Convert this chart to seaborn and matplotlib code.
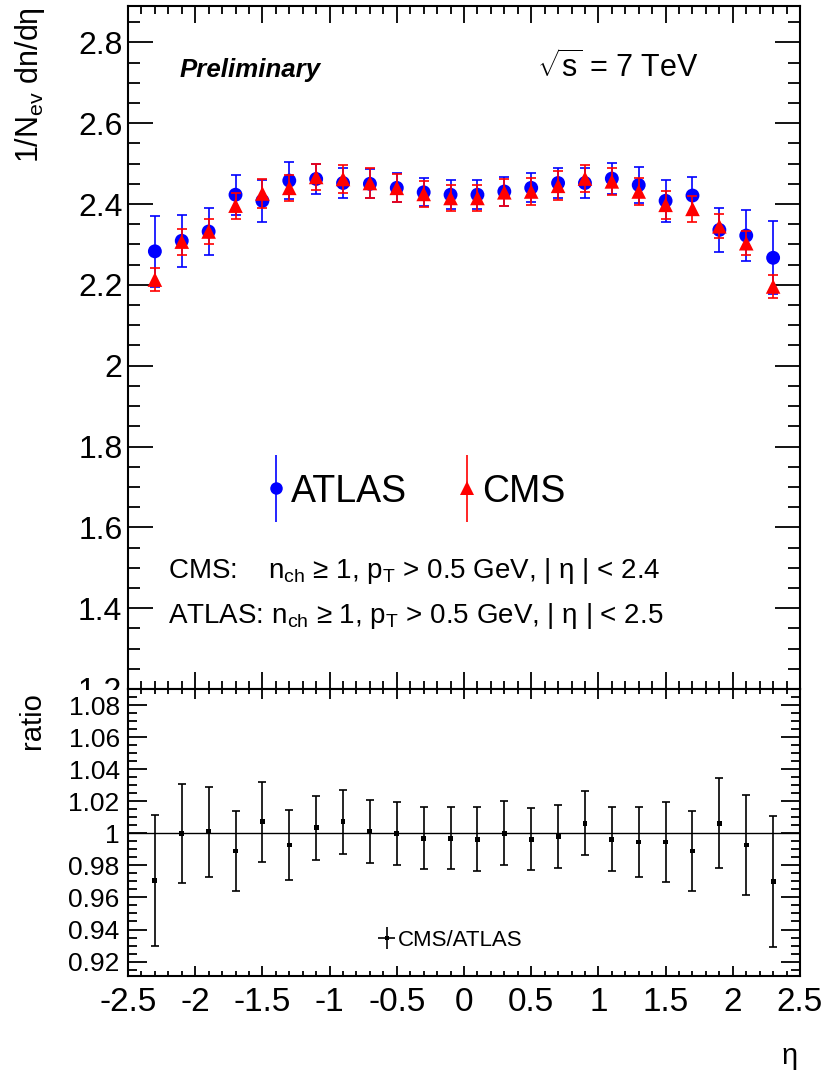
import numpy as np
import matplotlib
matplotlib.use("Agg")
import matplotlib.pyplot as plt
import seaborn as sns
from matplotlib.container import ErrorbarContainer
from matplotlib.lines import Line2D
from matplotlib.collections import LineCollection
from matplotlib.legend_handler import HandlerErrorbar
from matplotlib.patches import Rectangle
from matplotlib.ticker import MultipleLocator, FuncFormatter

# ---------------- data ----------------
eta = [-2.3, -2.1, -1.9, -1.7, -1.5, -1.3, -1.1, -0.9, -0.7, -0.5, -0.3, -0.1,
       0.1, 0.3, 0.5, 0.7, 0.9, 1.1, 1.3, 1.5, 1.7, 1.9, 2.1, 2.3]

atlas = [2.283, 2.309, 2.332, 2.423, 2.408, 2.458, 2.462, 2.452, 2.450, 2.440, 2.429, 2.423,
         2.423, 2.431, 2.440, 2.452, 2.452, 2.463, 2.447, 2.408, 2.421, 2.336, 2.322, 2.267]
atlas_err = [0.088, 0.064, 0.057, 0.050, 0.052, 0.045, 0.038, 0.036, 0.036, 0.036, 0.035, 0.036,
             0.036, 0.035, 0.036, 0.036, 0.036, 0.038, 0.045, 0.052, 0.046, 0.055, 0.064, 0.090]

cms = [2.213, 2.307, 2.332, 2.396, 2.426, 2.440, 2.467, 2.462, 2.452, 2.440, 2.425, 2.415,
       2.415, 2.429, 2.431, 2.445, 2.463, 2.456, 2.431, 2.398, 2.388, 2.345, 2.303, 2.196]
cms_err = [0.028, 0.032, 0.032, 0.032, 0.035, 0.033, 0.033, 0.034, 0.036, 0.034, 0.033, 0.033,
           0.033, 0.033, 0.034, 0.036, 0.034, 0.033, 0.033, 0.035, 0.032, 0.030, 0.030, 0.028]

ratio = [0.9706, 1.000, 1.001, 0.989, 1.0073, 0.9927, 1.0035, 1.0073, 1.001, 1.000, 0.997, 0.997,
         0.9963, 1.000, 0.9963, 0.998, 1.0063, 0.9963, 0.9946, 0.9946, 0.989, 1.0063, 0.9927, 0.970]
ratio_err = [0.041, 0.031, 0.028, 0.025, 0.025, 0.022, 0.020, 0.020, 0.0195, 0.0195, 0.0195, 0.0195,
             0.020, 0.020, 0.0195, 0.0195, 0.020, 0.020, 0.022, 0.025, 0.025, 0.028, 0.031, 0.041]

series_names = ["ATLAS", "CMS"]
ratio_name = "CMS/ATLAS"

# ---------------- style ----------------
sns.set_theme(style="ticks")
plt.rcParams["font.family"] = ["Liberation Sans", "DejaVu Sans"]
plt.rcParams["mathtext.fontset"] = "custom"
plt.rcParams["mathtext.rm"] = "Liberation Sans"
plt.rcParams["mathtext.it"] = "Liberation Sans:italic"
plt.rcParams["mathtext.bf"] = "Liberation Sans:bold"
plt.rcParams["axes.linewidth"] = 1.5
plt.rcParams["axes.edgecolor"] = "black"
plt.rcParams["text.color"] = "black"
plt.rcParams["axes.labelcolor"] = "black"
plt.rcParams["xtick.color"] = "black"
plt.rcParams["ytick.color"] = "black"

W, H = 827, 1081
fig = plt.figure(figsize=(W / 100, H / 100), dpi=100)
fig.patch.set_facecolor("white")

ax = fig.add_axes([128 / W, 1 - 689 / H, 672 / W, 683 / H], zorder=0)
axr = fig.add_axes([128 / W, 1 - 976 / H, 672 / W, 287 / H], zorder=0.7)

BLUE = "#0000ff"
RED = "#ff0000"

fmt = FuncFormatter(lambda v, p: f"{round(v, 4):g}")

# ---------------- main panel ----------------
ax.errorbar(eta, atlas, yerr=atlas_err, fmt="none", ecolor=BLUE, elinewidth=1.2,
            capsize=3.6, capthick=1.2, zorder=2)
sns.scatterplot(x=eta, y=atlas, ax=ax, marker="o", s=10 ** 2, color=BLUE,
                edgecolor="none", zorder=3, legend=False)
ax.errorbar(eta, cms, yerr=cms_err, fmt="none", ecolor=RED, elinewidth=1.2,
            capsize=3.6, capthick=1.2, zorder=4)
sns.scatterplot(x=eta, y=cms, ax=ax, marker="^", s=10.5 ** 2, color=RED,
                edgecolor="none", zorder=5, legend=False)

ax.set_xlim(-2.5, 2.5)
ax.set_ylim(1.2, 2.89)
ax.xaxis.set_major_locator(MultipleLocator(0.5))
ax.xaxis.set_minor_locator(MultipleLocator(0.1))
ax.yaxis.set_major_locator(MultipleLocator(0.2))
ax.yaxis.set_minor_locator(MultipleLocator(0.05))
ax.yaxis.set_major_formatter(fmt)
ax.tick_params(which="both", direction="in", top=True, right=True, width=1.3,
               colors="black", labelcolor="black")
ax.tick_params(axis="y", which="major", length=18, labelsize=23, pad=4)
ax.tick_params(axis="y", which="minor", length=8.6)
ax.tick_params(axis="x", which="major", length=12, labelbottom=False)
ax.tick_params(axis="x", which="minor", length=6)
ax.set_xlabel("")
ax.set_ylabel("")
for s in ax.spines.values():
    s.set_linewidth(1.5)
    s.set_color("black")

ax.text(0.0774, 0.8965, "Preliminary", transform=ax.transAxes, fontsize=18.6,
        fontweight="bold", fontstyle="italic", ha="left", va="baseline", color="black")
ax.text(0.6086, 0.8965, r"$\sqrt{\mathrm{s}}$ = 7 TeV", transform=ax.transAxes,
        fontsize=22, ha="left", va="baseline", color="black")
ax.text(0.0595, 0.1625,
        r"CMS:    n$_{\mathrm{ch}}$ ≥ 1, p$_{\mathrm{T}}$ > 0.5 GeV, | η | < 2.4",
        transform=ax.transAxes, fontsize=20, ha="left", va="baseline", color="black")
ax.text(0.0595, 0.0966,
        r"ATLAS: n$_{\mathrm{ch}}$ ≥ 1, p$_{\mathrm{T}}$ > 0.5 GeV, | η | < 2.5",
        transform=ax.transAxes, fontsize=20, ha="left", va="baseline", color="black")


def proxy(color, marker, ms, xerr=False):
    ln = Line2D([], [], color=color, marker=marker, markersize=ms, linestyle="none",
                markeredgewidth=0)
    bars = (LineCollection([], colors=color, linewidths=1.2),
            LineCollection([], colors=color, linewidths=1.2))
    return ErrorbarContainer((ln, (), bars), has_xerr=xerr, has_yerr=True)


h_atlas = proxy(BLUE, "o", 9.0)
h_cms = proxy(RED, "^", 9.5)
leg = ax.legend([h_atlas, h_cms], series_names,
                handler_map={ErrorbarContainer: HandlerErrorbar(yerr_size=0.9)},
                ncol=2, frameon=False, fontsize=27, handlelength=0.6, handletextpad=0.1,
                columnspacing=1.3, borderpad=0, borderaxespad=0,
                loc="center left", bbox_to_anchor=(0.204, 0.289))
for t in leg.get_texts():
    t.set_color("black")

# ---------------- ratio panel ----------------
axr.axhline(1.0, color="black", linewidth=1.0, zorder=1)
axr.errorbar(eta, ratio, yerr=ratio_err, fmt="none", ecolor="black", elinewidth=1.2,
             capsize=2.8, capthick=1.2, zorder=2)
sns.scatterplot(x=eta, y=ratio, ax=axr, marker="s", s=3.5 ** 2, color="black",
                edgecolor="none", zorder=3, legend=False)
axr.set_xlim(-2.5, 2.5)
axr.set_ylim(0.911, 1.09)
axr.xaxis.set_major_locator(MultipleLocator(0.5))
axr.xaxis.set_minor_locator(MultipleLocator(0.1))
axr.yaxis.set_major_locator(MultipleLocator(0.02))
axr.yaxis.set_minor_locator(MultipleLocator(0.005))
axr.xaxis.set_major_formatter(fmt)
axr.yaxis.set_major_formatter(fmt)
axr.tick_params(which="both", direction="in", top=True, right=True, width=1.3,
                colors="black", labelcolor="black")
axr.tick_params(axis="y", which="major", length=13.5, labelsize=19, pad=6)
axr.tick_params(axis="y", which="minor", length=6.7)
axr.tick_params(axis="x", which="major", length=7.5, labelsize=24, pad=8)
axr.tick_params(axis="x", which="minor", length=3.8)
axr.set_xlabel("")
axr.set_ylabel("")
for s in axr.spines.values():
    s.set_linewidth(1.5)
    s.set_color("black")

h_ratio = proxy("black", "s", 3.5, xerr=True)
legr = axr.legend([h_ratio], [ratio_name],
                  handler_map={ErrorbarContainer: HandlerErrorbar(xerr_size=0.37, yerr_size=0.5)},
                  frameon=False, fontsize=16, handlelength=0.75, handletextpad=0.12,
                  borderpad=0, borderaxespad=0, loc="center left",
                  bbox_to_anchor=(0.3726, 0.125))
for t in legr.get_texts():
    t.set_color("black")

# cover the lower half of the main panel's lowest tick label (as in the reference)
fig.patches.append(Rectangle((40 / W, 1 - 700 / H), 87 / W, 10.5 / H,
                             transform=fig.transFigure, facecolor="white",
                             edgecolor="none", zorder=0.5))

# ---------------- axis titles ----------------
fig.text(30 / W, 1 - 7 / H, r"1/N$_{\mathrm{ev}}$ dn/dη", rotation=90, fontsize=22,
         ha="center", va="top", color="black")
fig.text(32 / W, 1 - 692 / H, "ratio", rotation=90, fontsize=21, ha="center", va="top",
         color="black")
fig.text(790 / W, 1 - 1064 / H, "η", fontsize=21, ha="center", va="baseline", color="black")

fig.savefig("out.png", dpi=100, facecolor="white")
